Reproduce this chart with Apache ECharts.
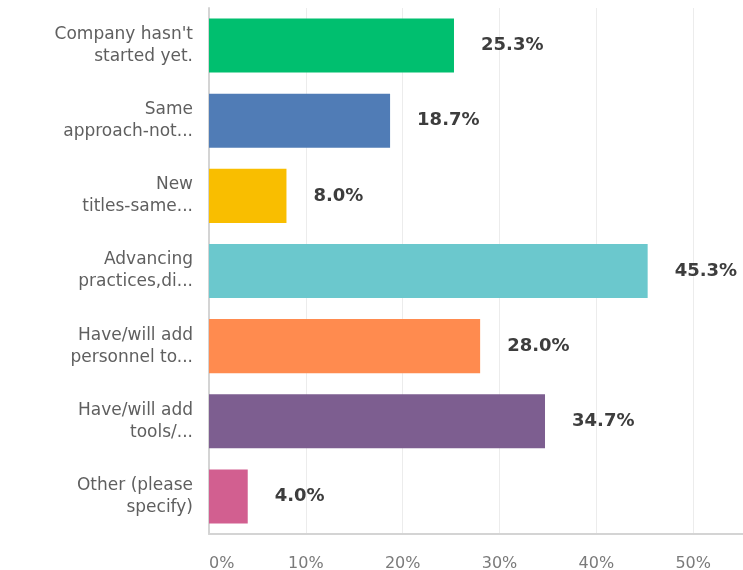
<!DOCTYPE html>
<html>
<head>
<meta charset="utf-8">
<script src="https://cdn.jsdelivr.net/npm/echarts@6/dist/echarts.min.js"></script>
<style>html,body{margin:0;padding:0;background:#fff;overflow:hidden}#c{width:743px;height:570px}</style>
</head>
<body>
<div id="c"></div>
<script>
const categories = [
  "Company hasn't\nstarted yet.",
  "Same\napproach-not...",
  "New\ntitles-same...",
  "Advancing\npractices,di...",
  "Have/will add\npersonnel to...",
  "Have/will add\ntools/...",
  "Other (please\nspecify)"
];
const values = [25.3, 18.7, 8.0, 45.3, 28.0, 34.7, 4.0];
const colors = ["#00BF6F", "#507CB6", "#F9BE00", "#6BC8CD", "#FF8B4F", "#7D5E90", "#D25F90"];
const tickValues = [0, 10, 20, 30, 40, 50, 60];

const chart = echarts.init(document.getElementById('c'), null, {renderer: 'canvas'});
chart.setOption({
  animation: false,
  backgroundColor: '#fff',
  grid: {left: 209, top: 8, bottom: 36, width: 581, containLabel: false, outerBoundsMode: 'none'},
  xAxis: {
    type: 'value', min: tickValues[0], max: tickValues[tickValues.length - 1], interval: 10,
    axisLine: {show: true, lineStyle: {color: '#d4d4d4', width: 2}},
    axisTick: {show: false},
    splitLine: {show: true, lineStyle: {color: '#ececec', width: 1}},
    axisLabel: {formatter: '{value}%', color: '#7a7a7a', fontFamily: 'DejaVu Sans', fontSize: 16, margin: 22, alignMinLabel: 'left'}
  },
  yAxis: {
    type: 'category', data: categories, inverse: true,
    axisLine: {show: true, lineStyle: {color: '#d4d4d4', width: 2}},
    axisTick: {show: false},
    axisLabel: {color: '#5f5f5f', fontFamily: 'DejaVu Sans', fontSize: 17, lineHeight: 22, margin: 16, align: 'right'}
  },
  series: [{
    type: 'bar',
    barWidth: '72%',
    data: values.map((v, i) => ({value: v, itemStyle: {color: colors[i]}})),
    label: {
      show: true, position: 'right', distance: 27,
      formatter: p => p.value.toFixed(1) + '%',
      color: '#3d3d3d', fontFamily: 'DejaVu Sans', fontWeight: 'bold', fontSize: 18
    }
  }]
});
</script>
</body>
</html>
